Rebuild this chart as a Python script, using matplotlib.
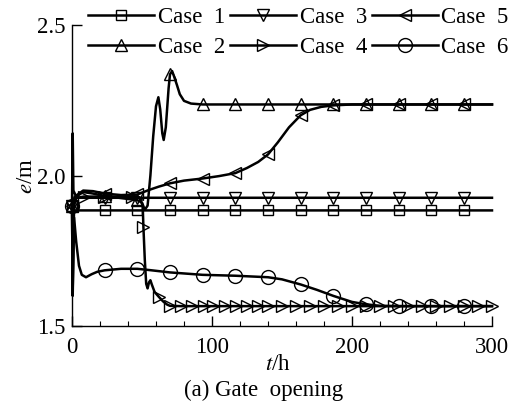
import numpy as np
import matplotlib
matplotlib.use("Agg")
import matplotlib.pyplot as plt
from matplotlib.ticker import MultipleLocator

plt.rcParams["font.family"] = ["Liberation Serif", "DejaVu Serif"]
plt.rcParams["mathtext.fontset"] = "stix"

# Common marker instants (h) for cases 1, 2, 3, 5 and 6
mark_t = [0, 23.3, 46.7, 70, 93.3, 116.7, 140, 163.3, 186.7, 210, 233.3, 256.7, 280]

labels = ["Case  1", "Case  2", "Case  3", "Case  4", "Case  5", "Case  6"]
markers = ["s", "^", "v", ">", "<", "o"]
msizes = [7, 8, 8, 8, 8, 10]

# Case 1
t1 = [0, 1, 2, 23.3, 46.7, 70, 93.3, 116.7, 140, 163.3, 186.7, 210, 233.3, 256.7, 280, 300]
e1 = [1.90, 1.888, 1.884, 1.884, 1.884, 1.884, 1.884, 1.884, 1.884, 1.884, 1.884, 1.884,
      1.884, 1.884, 1.884, 1.884]

# Case 2
t2 = [0, 0.5, 1, 3, 8, 15, 23.3, 35, 46.7, 50, 52, 54, 56, 58, 60, 61.7, 63, 64.5, 65.5,
      67, 69, 70, 71.5, 73, 75, 77, 80, 85, 93.3, 116.7, 140, 163.3, 186.7, 210, 233.3,
      256.7, 280, 300]
e2 = [1.90, 2.14, 1.95, 1.93, 1.945, 1.94, 1.932, 1.925, 1.918, 1.91, 1.886, 1.90, 2.00,
      2.13, 2.23, 2.26, 2.22, 2.14, 2.118, 2.16, 2.29, 2.336, 2.347, 2.328, 2.30, 2.27,
      2.248, 2.239, 2.236, 2.236, 2.236, 2.236, 2.236, 2.236, 2.236, 2.236, 2.236, 2.236]

# Case 3
t3 = [0, 1, 2, 23.3, 46.7, 70, 93.3, 116.7, 140, 163.3, 186.7, 210, 233.3, 256.7, 280, 300]
e3 = [1.90, 1.915, 1.926, 1.926, 1.926, 1.926, 1.926, 1.926, 1.926, 1.926, 1.926, 1.926,
      1.926, 1.926, 1.926, 1.926]

# Case 4
t4 = [0, 0.5, 1.5, 3, 8.3, 22.6, 43, 48, 50.5, 51, 52, 53, 54, 55, 56, 57, 59, 62, 65,
      68, 70, 78, 86, 94, 101, 109, 117, 125, 133, 140, 150, 160, 170, 180, 190, 200,
      210, 220, 230, 240, 250, 260, 270, 280, 290, 300]
e4 = [1.90, 1.62, 1.90, 1.925, 1.93, 1.93, 1.93, 1.928, 1.90, 1.83, 1.72, 1.64, 1.625,
      1.645, 1.652, 1.638, 1.613, 1.597, 1.582, 1.571, 1.567, 1.566, 1.566, 1.566, 1.566,
      1.566, 1.566, 1.566, 1.566, 1.566, 1.566, 1.566, 1.566, 1.566, 1.566, 1.566, 1.566,
      1.566, 1.566, 1.566, 1.566, 1.566, 1.566, 1.566, 1.566, 1.566]
mark_t4 = [8.3, 22.6, 43, 51, 62, 70, 78, 86, 94, 101, 109, 117, 125, 133, 140, 150, 160,
           170, 180, 190, 200, 210, 220, 230, 240, 250, 260, 270, 280, 290, 300]

# Case 5
t5 = [0, 2, 8, 15, 23.3, 35, 46.7, 55, 62, 70, 80, 93.3, 105, 116.7, 125, 133, 140, 147,
      155, 163.3, 170, 178, 186.7, 200, 210, 233.3, 256.7, 280, 300]
e5 = [1.90, 1.93, 1.95, 1.948, 1.94, 1.935, 1.937, 1.952, 1.963, 1.974, 1.983, 1.99,
      1.998, 2.008, 2.025, 2.045, 2.07, 2.11, 2.16, 2.20, 2.218, 2.228, 2.233, 2.236,
      2.236, 2.236, 2.236, 2.236, 2.236]

# Case 6
t6 = [0, 0.5, 1.5, 3, 5, 7, 10, 14, 18, 23.3, 35, 46.7, 55, 70, 93.3, 116.7, 140, 150,
      163.3, 175, 186.7, 200, 210, 220, 233.3, 256.7, 280, 300]
e6 = [1.90, 1.60, 1.86, 1.78, 1.70, 1.67, 1.662, 1.672, 1.68, 1.685, 1.69, 1.69, 1.686,
      1.678, 1.67, 1.667, 1.662, 1.655, 1.638, 1.62, 1.60, 1.58, 1.572, 1.567, 1.566,
      1.566, 1.566, 1.566]

series = [(t1, e1, mark_t), (t2, e2, mark_t), (t3, e3, mark_t),
          (t4, e4, mark_t4), (t5, e5, mark_t), (t6, e6, mark_t)]

xticks = [0, 100, 200, 300]
xtick_labels = ["0", "100", "200", "300"]
yticks = [1.5, 2.0, 2.5]
ytick_labels = ["1.5", "2.0", "2.5"]

serif = ["Liberation Serif", "DejaVu Serif"]

fig = plt.figure(figsize=(5.21, 4.05), dpi=100)
ax = fig.add_axes([72 / 521, 1 - 326 / 405, 420 / 521, 301 / 405])

handles = []
for (t, e, mt), lab, mk, ms in zip(series, labels, markers, msizes):
    t = np.asarray(t, dtype=float)
    e = np.asarray(e, dtype=float)
    idx = [int(np.argmin(np.abs(t - m))) for m in mt]
    h, = ax.plot(t, e, color="black", lw=1.8, marker=mk, markersize=ms,
                 markevery=idx, markerfacecolor="none", markeredgecolor="black",
                 markeredgewidth=1.0, label=lab, clip_on=False)
    handles.append(h)

ax.set_xlim(0, 300)
ax.set_ylim(1.5, 2.5)
ax.set_xticks(xticks)
ax.set_xticklabels(xtick_labels, fontfamily=serif, fontsize=16.5)
ax.set_yticks(yticks)
ax.set_yticklabels(ytick_labels, fontfamily=serif, fontsize=16.5)
ax.xaxis.set_minor_locator(MultipleLocator(20))
for s in ["top", "right"]:
    ax.spines[s].set_visible(False)
for s in ["left", "bottom"]:
    ax.spines[s].set_linewidth(1.0)
ax.tick_params(axis="both", which="major", direction="in", length=7, width=1.0, pad=5)
ax.tick_params(axis="x", which="major", pad=8)
ax.tick_params(axis="x", which="minor", direction="in", length=3.5, width=0.8)

fig.text(278 / 521, 1 - 365 / 405, "$t$/h", ha="center", va="center", fontsize=16.5)
fig.text(27 / 521, 1 - 176 / 405, "$e$/m", ha="center", va="center", fontsize=16.5,
         rotation=90)
fig.text(0.505, 1 - 390 / 405, "(a) Gate  opening", ha="center", va="center",
         fontsize=16.5, fontfamily=serif)

leg = fig.legend(handles=handles, ncol=3, loc="upper left",
                 bbox_to_anchor=(88 / 521, 1 - 7 / 405), frameon=False,
                 prop={"family": serif, "size": 16.5}, handlelength=2.9,
                 handletextpad=0.15, columnspacing=0.2, labelspacing=0.38,
                 borderpad=0, borderaxespad=0)
for lh in leg.get_lines():
    lh.set_linewidth(1.8)

fig.savefig("out.png", dpi=100)
